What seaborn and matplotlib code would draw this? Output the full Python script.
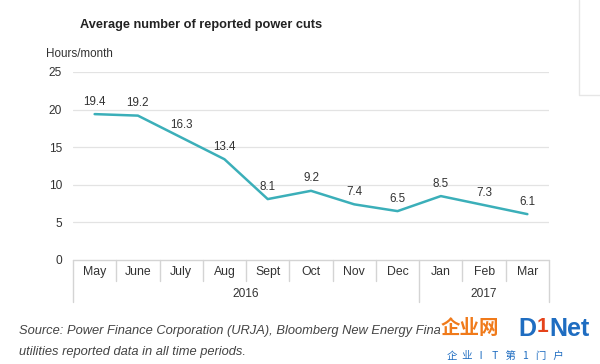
import matplotlib
matplotlib.use("Agg")
import matplotlib.pyplot as plt
import seaborn as sns
import pandas as pd
from matplotlib.lines import Line2D

months = ["May", "June", "July", "Aug", "Sept", "Oct", "Nov", "Dec", "Jan", "Feb", "Mar"]
values = [19.4, 19.2, 16.3, 13.4, 8.1, 9.2, 7.4, 6.5, 8.5, 7.3, 6.1]
years = ["2016", "2017"]
year_spans = [(0, 8), (8, 11)]  # month index ranges per year
yticks = [0, 5, 10, 15, 20, 25]

sns.set_theme(style="white")
plt.rcParams["font.family"] = ["Liberation Sans", "DejaVu Sans"]

W, H = 600, 364
fig = plt.figure(figsize=(W / 100, H / 100), dpi=100)
ax_l, ax_r, ax_t, ax_b = 73, 549, 72, 260
ax = fig.add_axes([ax_l / W, (H - ax_b) / H, (ax_r - ax_l) / W, (ax_b - ax_t) / H])

df = pd.DataFrame({"month": months, "value": values})
df["pos"] = range(len(months))
sns.lineplot(data=df, x="pos", y="value", ax=ax, color="#3BAFB9", linewidth=1.8, sort=False)

txt = "#333333"
ax.set_xlim(-0.5, len(months) - 0.5)
ax.set_ylim(0, 25)
ax.set_yticks(yticks)
ax.set_yticklabels([str(v) for v in yticks], fontsize=8.6, color=txt)
ax.set_xticks(range(len(months)))
ax.set_xticklabels(months, fontsize=8.8, color=txt)
ax.tick_params(axis="x", length=0, pad=4)
ax.tick_params(axis="y", length=0, pad=8)
ax.set_xlabel("")
ax.set_ylabel("")
for s in ax.spines.values():
    s.set_visible(False)
for v in yticks[1:]:
    ax.axhline(v, color="#e3e3e3", linewidth=0.9, zorder=0)

# data labels
for i, v in enumerate(values):
    ax.annotate(f"{v}", (i, v), xytext=(0, 9), textcoords="offset points",
                ha="center", va="center", fontsize=8.4, color=txt)

# category table below axis
axh = ax_b - ax_t
def yf(px):
    return -(px - ax_b) / axh

gc = "#d4d4d4"
trans = ax.get_xaxis_transform()
ax.add_line(Line2D([-0.5, len(months) - 0.5], [0, 0], transform=trans, color=gc, lw=1, clip_on=False))
for k in range(1, len(months)):
    x = k - 0.5
    if k == year_spans[1][0]:
        continue
    ax.add_line(Line2D([x, x], [0, yf(281)], transform=trans, color=gc, lw=1, clip_on=False))
for x in [-0.5, year_spans[1][0] - 0.5, len(months) - 0.5]:
    ax.add_line(Line2D([x, x], [0, yf(302)], transform=trans, color=gc, lw=1, clip_on=False))
for yr, (a, b) in zip(years, year_spans):
    ax.text((a + b - 1) / 2, yf(294), yr, transform=trans, ha="center", va="center",
            fontsize=8.6, color=txt)

fig.text(80 / W, 1 - 25 / H, "Average number of reported power cuts", fontsize=9.2,
         fontweight="bold", color="#222222", ha="left", va="center")
fig.text(46 / W, 1 - 54 / H, "Hours/month", fontsize=8.4, color=txt, ha="left", va="center")

fig.text(19 / W, 1 - 331 / H,
         "Source: Power Finance Corporation (URJA), Bloomberg New Energy Finance. Not all",
         fontsize=9.3, style="italic", color="#444444", ha="left", va="center")
fig.text(19 / W, 1 - 352 / H, "utilities reported data in all time periods.",
         fontsize=9.3, style="italic", color="#444444", ha="left", va="center")

# watermark (overlays the source line, as in the reference)
fig.patches.append(plt.Rectangle((440 / W, 1 - 343 / H), 160 / W, 28 / H, transform=fig.transFigure,
                                 facecolor="white", edgecolor="none", zorder=5))
fig.text(441 / W, 1 - 329 / H, "企业网", fontsize=14, fontweight="bold", color="#F07A1A",
         family=["Noto Sans CJK SC", "DejaVu Sans"], ha="left", va="center", zorder=6)
fig.text(518 / W, 1 - 329 / H, "D", fontsize=18, fontweight="bold", color="#1F6DC1",
         ha="left", va="center", zorder=6)
fig.text(537 / W, 1 - 327 / H, "1", fontsize=15, fontweight="bold", color="#E5431A",
         ha="left", va="center", zorder=6)
fig.text(549 / W, 1 - 329 / H, "Net", fontsize=18, fontweight="bold", color="#1F6DC1",
         ha="left", va="center", zorder=6)
fig.text(447 / W, 1 - 356 / H, "企  业   I    T   第   1   门   户", fontsize=7.5, color="#1F6DC1",
         family=["Noto Sans CJK SC", "DejaVu Sans"], ha="left", va="center", zorder=6)

# faint box at top right
fig.add_artist(Line2D([579 / W, 579 / W, 600 / W], [1, 1 - 95 / H, 1 - 95 / H],
                      transform=fig.transFigure, color="#e6e6e6", lw=1))

fig.savefig("out.png", dpi=100)
